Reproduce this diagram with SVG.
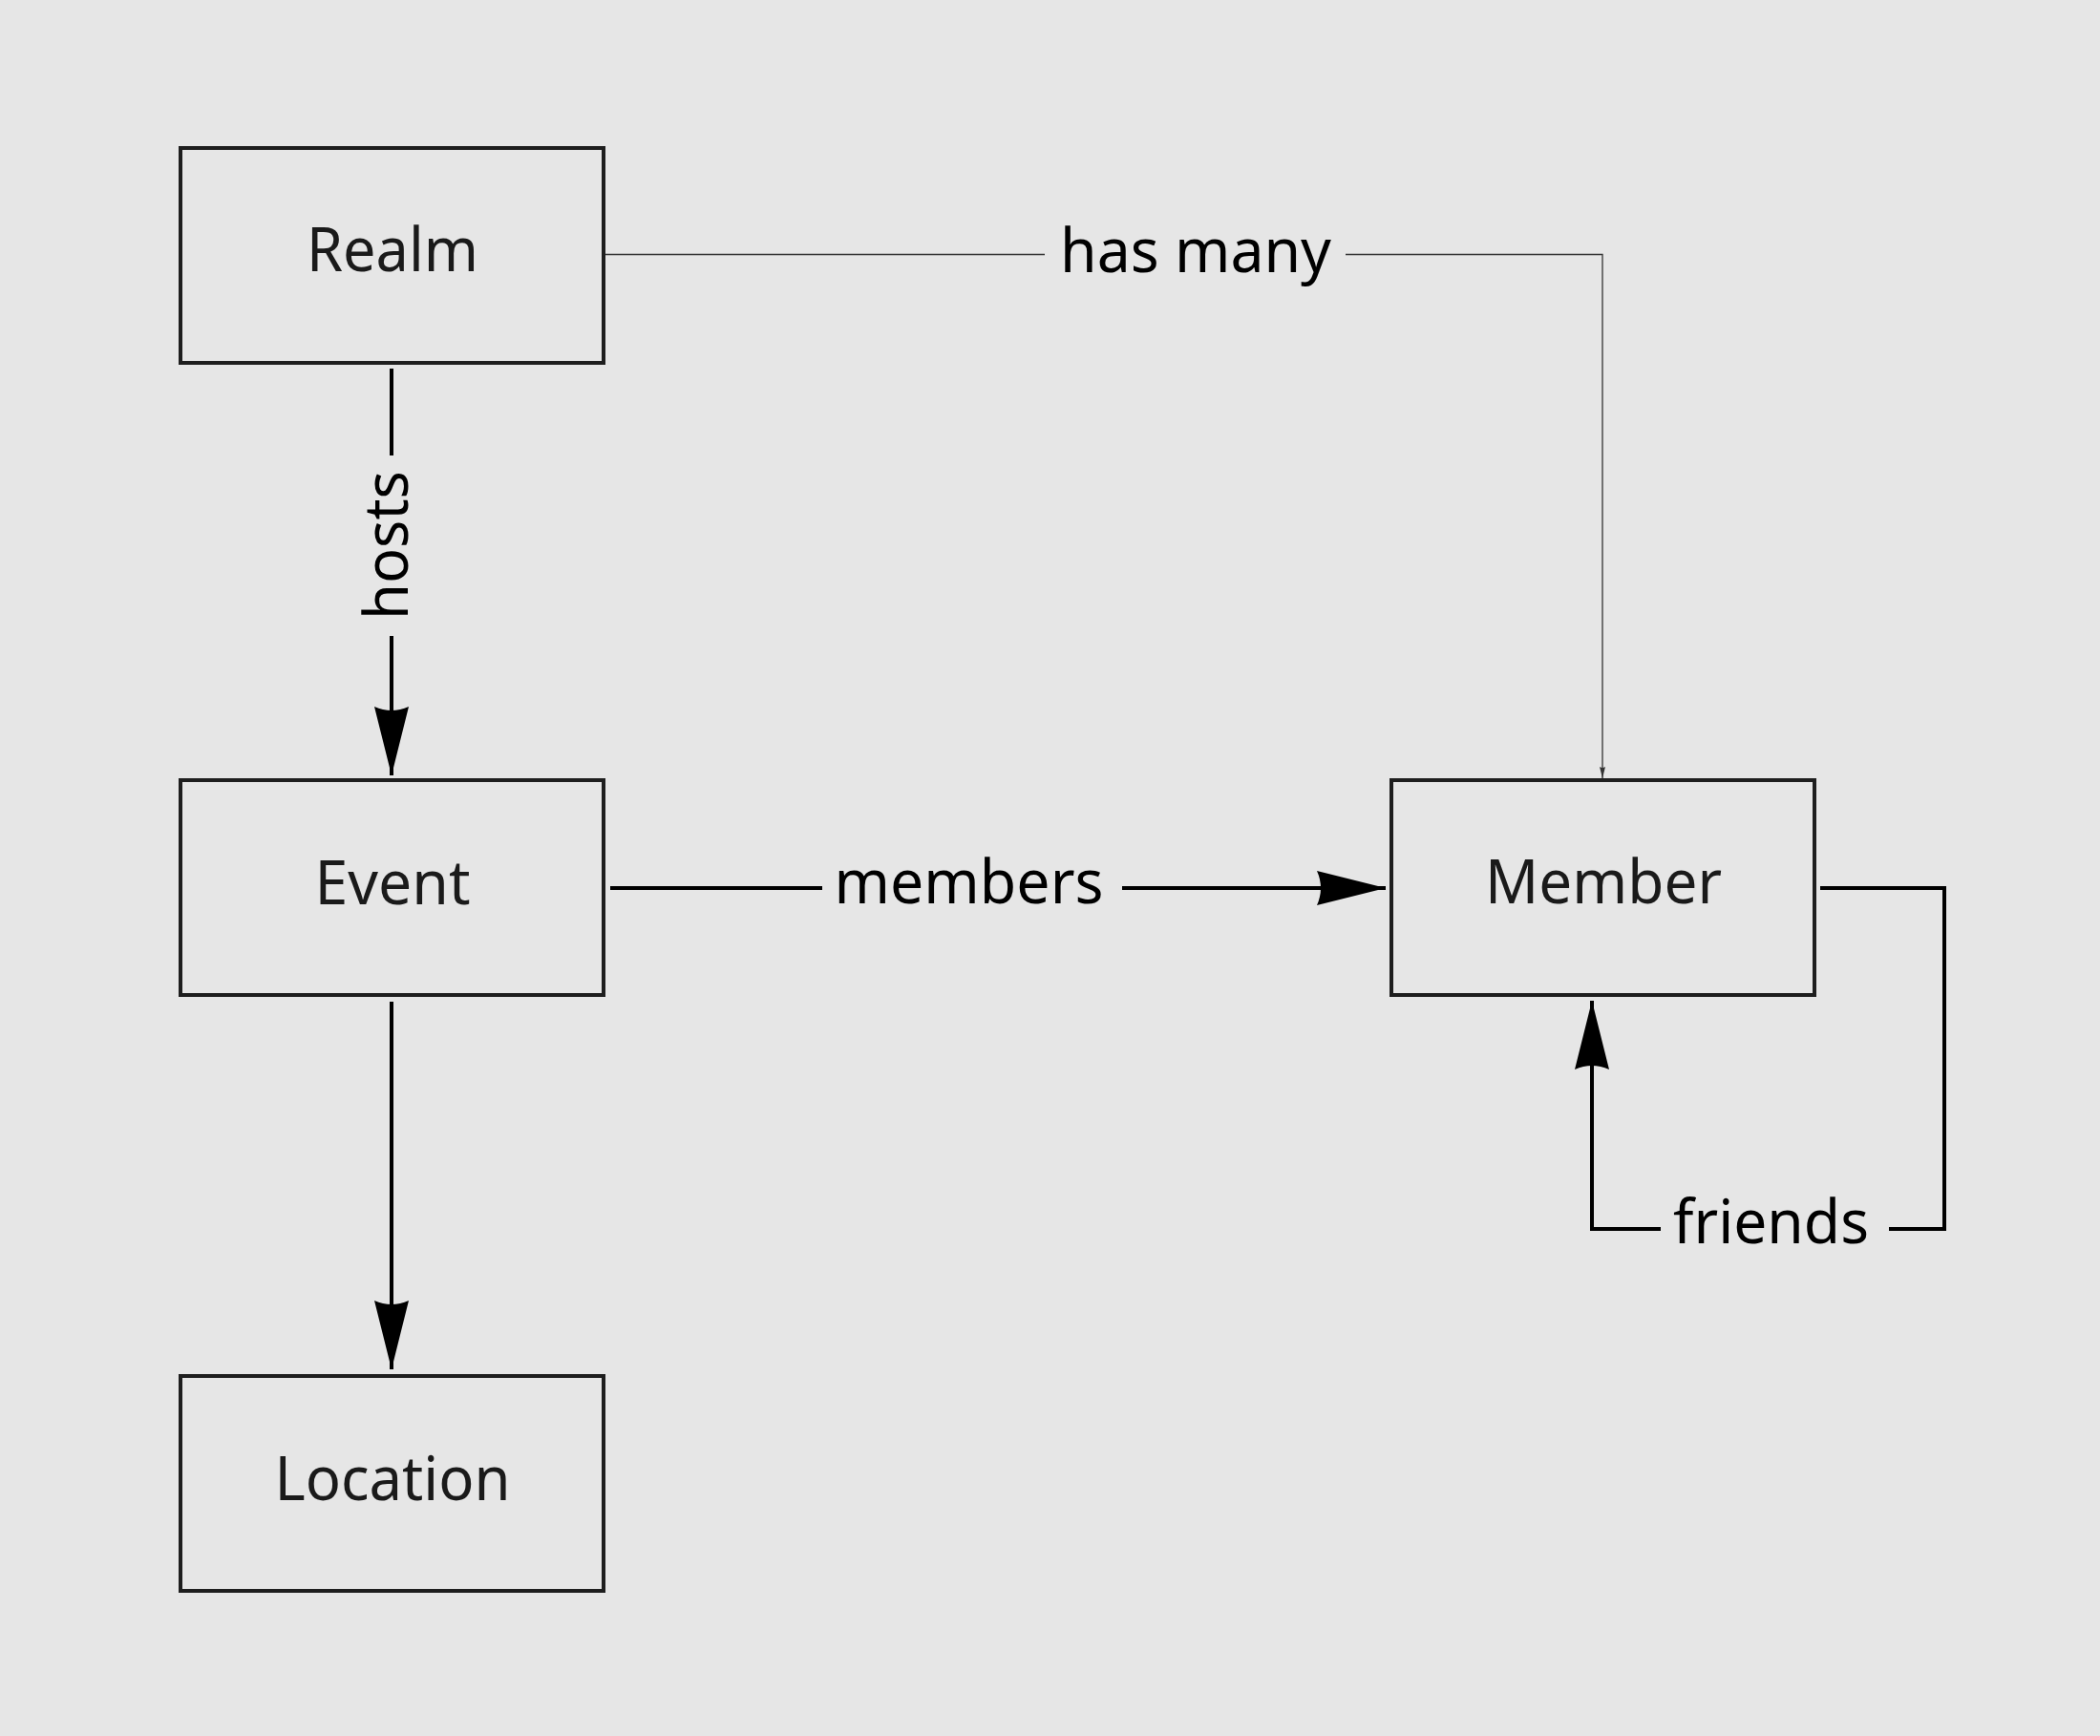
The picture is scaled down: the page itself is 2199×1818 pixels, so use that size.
<svg xmlns="http://www.w3.org/2000/svg" width="2199" height="1818" viewBox="0 0 2199 1818">
  <style>
    .node rect { fill: #e6e6e6; stroke: #1e1e1e; stroke-width: 4; }
    .node text { font-family: "Noto Sans", "Open Sans", sans-serif; font-size: 63px; fill: #1a1a1a; text-anchor: middle; }
    .edge { fill: none; stroke: #000; stroke-width: 4; }
    .thin { fill: none; stroke: #333; stroke-width: 1.3; }
    .elabel { font-family: "Noto Sans", "Open Sans", sans-serif; font-size: 63px; fill: #000; text-anchor: middle; }
  </style>
  <defs>
    <marker id="arrow" markerUnits="userSpaceOnUse" markerWidth="80" markerHeight="40" refX="72" refY="18" orient="auto" overflow="visible">
      <path d="M0,0 L72,18 L0,36 Q8,18 0,0 Z" fill="#000"/>
    </marker>
    <marker id="arrowSmall" markerUnits="userSpaceOnUse" markerWidth="14" markerHeight="8" refX="12" refY="3" orient="auto" overflow="visible">
      <path d="M0,0 L12,3 L0,6 Q2,3 0,0 Z" fill="#333"/>
    </marker>
  </defs>
  <rect x="0" y="0" width="2199" height="1818" fill="#e6e6e6"/>

  <g id="connectors">
    <g id="edge-hosts">
      <line class="edge" x1="410" y1="386" x2="410" y2="477"/>
      <line class="edge" x1="410" y1="666" x2="410" y2="812" marker-end="url(#arrow)"/>
      <text class="elabel" transform="translate(427,571) rotate(-90)" x="0" y="0" textLength="156" lengthAdjust="spacingAndGlyphs">hosts</text>
    </g>
    <g id="edge-location">
      <line class="edge" x1="410" y1="1049" x2="410" y2="1434" marker-end="url(#arrow)"/>
    </g>
    <g id="edge-members">
      <line class="edge" x1="639" y1="930" x2="861" y2="930"/>
      <line class="edge" x1="1175" y1="930" x2="1451" y2="930" marker-end="url(#arrow)"/>
      <text class="elabel" x="1014.5" y="946" textLength="282" lengthAdjust="spacingAndGlyphs">members</text>
    </g>
    <g id="edge-hasmany">
      <line class="thin" x1="632" y1="266.5" x2="1094" y2="266.5"/>
      <polyline class="thin" points="1409,266.5 1678,266.5 1678,815" marker-end="url(#arrowSmall)"/>
      <text class="elabel" x="1252" y="285" textLength="284" lengthAdjust="spacingAndGlyphs">has many</text>
    </g>
    <g id="edge-friends">
      <polyline class="edge" points="1906,930 2036,930 2036,1287 1978,1287"/>
      <polyline class="edge" points="1739,1287 1667,1287 1667,1048" marker-end="url(#arrow)"/>
      <text class="elabel" x="1854.5" y="1302" textLength="205" lengthAdjust="spacingAndGlyphs">friends</text>
    </g>
  </g>

  <g id="node-realm" class="node">
    <rect x="189" y="155" width="443" height="225"/>
    <text x="411" y="284" textLength="180" lengthAdjust="spacingAndGlyphs">Realm</text>
  </g>
  <g id="node-event" class="node">
    <rect x="189" y="817" width="443" height="225"/>
    <text x="411" y="947" textLength="163" lengthAdjust="spacingAndGlyphs">Event</text>
  </g>
  <g id="node-location" class="node">
    <rect x="189" y="1441" width="443" height="225"/>
    <text x="411" y="1571" textLength="247" lengthAdjust="spacingAndGlyphs">Location</text>
  </g>
  <g id="node-member" class="node">
    <rect x="1457" y="817" width="443" height="225"/>
    <text x="1679" y="946" textLength="248" lengthAdjust="spacingAndGlyphs">Member</text>
  </g>
</svg>
